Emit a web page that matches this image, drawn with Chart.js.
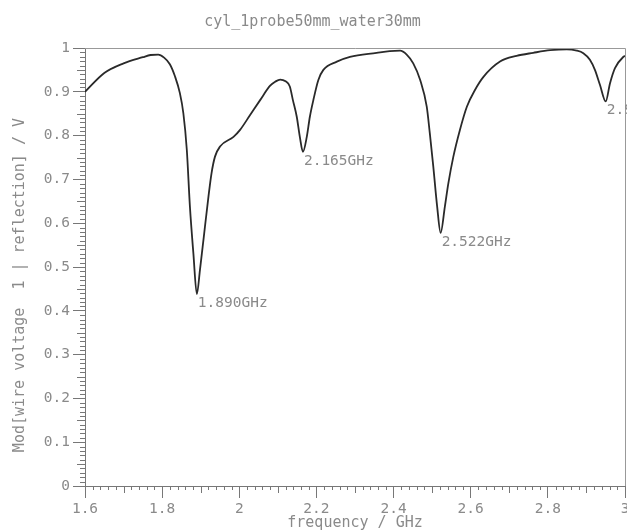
<!DOCTYPE html>
<html>
<head>
<meta charset="utf-8">
<script src="https://cdn.jsdelivr.net/npm/chart.js@4/dist/chart.umd.min.js"></script>
<style>
  html, body { margin: 0; padding: 0; background: #fff; overflow: hidden; }
  #wrap { width: 645px; height: 531px; }
</style>
</head>
<body>
<div id="wrap"><canvas id="c" width="645" height="531"></canvas></div>
<script>
// curve: frequency (GHz) and |reflection| (V)
const freq = [1.60, 1.65, 1.70, 1.75, 1.77, 1.79, 1.805, 1.82, 1.833, 1.846, 1.855, 1.864, 1.872, 1.881, 1.890,
  1.898, 1.905, 1.911, 1.920, 1.928, 1.937, 1.950, 1.985, 2.002, 2.028, 2.054, 2.080, 2.093, 2.106, 2.120,
  2.131, 2.139, 2.149, 2.157, 2.165, 2.175, 2.183, 2.192, 2.205, 2.218, 2.253, 2.287, 2.356, 2.390,
  2.417, 2.434, 2.451, 2.469, 2.486, 2.494, 2.503, 2.513, 2.522, 2.533, 2.542, 2.555, 2.572,
  2.590, 2.611, 2.633, 2.676, 2.719, 2.762, 2.806, 2.849, 2.875, 2.892, 2.909, 2.922, 2.935,
  2.950, 2.961, 2.974, 2.996, 3.00];
const refl = [0.900, 0.943, 0.965, 0.979, 0.984, 0.985, 0.978, 0.963, 0.936, 0.897, 0.851, 0.767, 0.638, 0.531, 0.438,
  0.493, 0.546, 0.592, 0.660, 0.714, 0.752, 0.775, 0.797, 0.813, 0.847, 0.881, 0.914, 0.923, 0.928, 0.924,
  0.912, 0.881, 0.843, 0.797, 0.763, 0.797, 0.843, 0.881, 0.927, 0.950, 0.969, 0.980, 0.989, 0.993,
  0.994, 0.985, 0.965, 0.927, 0.866, 0.805, 0.729, 0.638, 0.578, 0.638, 0.691, 0.752, 0.813,
  0.866, 0.904, 0.934, 0.969, 0.982, 0.989, 0.995, 0.997, 0.994, 0.988, 0.973, 0.950, 0.916,
  0.878, 0.919, 0.954, 0.980, 0.982];

// marked resonances
const peakFreq = [1.890, 2.165, 2.522, 2.950];
const peakVal = [0.438, 0.763, 0.578, 0.878];
const peakText = ['1.890GHz', '2.165GHz', '2.522GHz', '2.950GHz'];

const xTicks = [1.6, 1.8, 2, 2.2, 2.4, 2.6, 2.8, 3];
const yTicks = [0, 0.1, 0.2, 0.3, 0.4, 0.5, 0.6, 0.7, 0.8, 0.9, 1];

const gray = '#8a8a8a';
const axisGray = '#777';
const mono = 'DejaVu Sans Mono';

Chart.defaults.font.family = mono;
Chart.defaults.color = gray;

const fmt = v => String(+v.toFixed(2));

// small ticks, top/right frame and the marker texts
const extras = {
  id: 'extras',
  afterDraw(chart) {
    const { ctx, chartArea: a, scales: { x, y } } = chart;
    ctx.save();
    ctx.strokeStyle = axisGray;
    ctx.lineWidth = 1;
    ctx.beginPath();
    for (let i = 0; i <= 70; i++) {
      if (i % 10 === 0) continue;
      const px = Math.round(x.getPixelForValue(1.6 + i * 0.02)) + 0.5;
      const len = i % 5 === 0 ? 7 : 4;
      ctx.moveTo(px, a.bottom);
      ctx.lineTo(px, a.bottom + len);
    }
    for (let i = 0; i <= 100; i++) {
      if (i % 10 === 0) continue;
      const py = Math.round(y.getPixelForValue(i * 0.01)) + 0.5;
      const len = i % 5 === 0 ? 8 : 5;
      ctx.moveTo(a.left, py);
      ctx.lineTo(a.left - len, py);
    }
    ctx.stroke();

    ctx.strokeStyle = '#999';
    ctx.beginPath();
    ctx.moveTo(a.left, Math.round(a.top) + 0.5);
    ctx.lineTo(Math.round(a.right) + 0.5, Math.round(a.top) + 0.5);
    ctx.lineTo(Math.round(a.right) + 0.5, a.bottom);
    ctx.stroke();

    ctx.fillStyle = gray;
    ctx.font = '14.5px "' + mono + '"';
    ctx.textAlign = 'left';
    ctx.textBaseline = 'top';
    peakFreq.forEach((f, i) => {
      ctx.fillText(peakText[i], x.getPixelForValue(f) + 1, y.getPixelForValue(peakVal[i]) + 2);
    });
    ctx.restore();
  }
};

new Chart(document.getElementById('c'), {
  type: 'line',
  data: {
    datasets: [{
      data: freq.map((f, i) => ({ x: f, y: refl[i] })),
      borderColor: '#2a2a2a',
      borderWidth: 1.8,
      pointRadius: 0,
      fill: false,
      cubicInterpolationMode: 'monotone'
    }]
  },
  options: {
    responsive: false,
    animation: false,
    layout: { padding: { left: 0, right: 20, top: 0, bottom: 0 } },
    plugins: {
      legend: { display: false },
      tooltip: { enabled: false },
      title: {
        display: true,
        text: 'cyl_1probe50mm_water30mm',
        color: gray,
        font: { size: 15, weight: 'normal', lineHeight: 1.2 },
        padding: { top: 13, bottom: 17 }
      }
    },
    scales: {
      x: {
        type: 'linear',
        min: 1.6,
        max: 3,
        afterBuildTicks: s => { s.ticks = xTicks.map(v => ({ value: v })); },
        afterFit: s => { s.height = 45; },
        grid: { drawOnChartArea: false, tickLength: 12, color: axisGray },
        border: { color: axisGray },
        ticks: { color: gray, font: { size: 14.5 }, padding: 3, maxRotation: 0, callback: fmt },
        title: {
          display: true,
          text: 'frequency / GHz',
          color: gray,
          font: { size: 15, lineHeight: 1 },
          padding: { top: 0, bottom: 0 }
        }
      },
      y: {
        min: 0,
        max: 1,
        afterBuildTicks: s => { s.ticks = yTicks.map(v => ({ value: v })); },
        afterFit: s => { s.width = 85; },
        grid: { drawOnChartArea: false, tickLength: 12, color: axisGray },
        border: { color: axisGray },
        ticks: { color: gray, font: { size: 14.5 }, padding: 3, callback: fmt },
        title: {
          display: true,
          text: 'Mod[wire voltage  1 | reflection] / V    ',
          color: gray,
          font: { size: 15, lineHeight: 1.2 },
          padding: { top: 11, bottom: 0 }
        }
      }
    }
  },
  plugins: [extras]
});
</script>
</body>
</html>
